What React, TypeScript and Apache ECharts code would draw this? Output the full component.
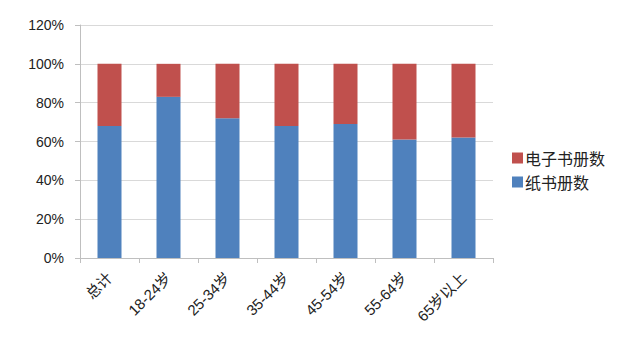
import React, { useEffect, useRef } from "react";
import * as echarts from "echarts";

const categories = ["总计", "18-24岁", "25-34岁", "35-44岁", "45-54岁", "55-64岁", "65岁以上"];
const paperBooks = [68, 83, 72, 68, 69, 61, 62];
const eBooks = [32, 17, 28, 32, 31, 39, 38];
const seriesNames = ["纸书册数", "电子书册数"];

export default function App() {
  const ref = useRef<HTMLDivElement>(null);
  useEffect(() => {
    const chart = echarts.init(ref.current!, null, { renderer: "svg" });
    const axisColor = "#BFBFBF";
    chart.setOption({
      animation: false,
      backgroundColor: "#fff",
      textStyle: { fontFamily: "'Liberation Sans', 'Noto Sans CJK SC', sans-serif" },
      grid: { left: 80, right: 129, top: 25, bottom: 96 },
      legend: {
        orient: "vertical",
        left: 507,
        top: 145,
        itemWidth: 11,
        itemHeight: 11,
        itemGap: 8,
        icon: "rect",
        data: [seriesNames[1], seriesNames[0]],
        textStyle: { fontSize: 16, color: "#222", fontFamily: "'Noto Sans CJK SC', sans-serif", padding: [0, 0, 0, -3] },
      },
      xAxis: {
        type: "category",
        data: categories,
        axisLine: { lineStyle: { color: axisColor } },
        axisTick: { show: true, length: 5, lineStyle: { color: axisColor } },
        axisLabel: {
          rotate: 45,
          fontSize: 15,
          color: "#222",
          margin: 17,
          fontFamily: "'Liberation Sans', 'Noto Sans CJK SC', sans-serif",
        },
      },
      yAxis: {
        type: "value",
        min: 0,
        max: 120,
        interval: 20,
        axisLine: { show: true, lineStyle: { color: axisColor } },
        axisTick: { show: true, length: 5, lineStyle: { color: axisColor } },
        splitLine: { lineStyle: { color: "#D9D9D9" } },
        axisLabel: { formatter: "{value}%", fontSize: 14, color: "#222", margin: 16 },
      },
      series: [
        {
          name: seriesNames[0],
          type: "bar",
          stack: "total",
          data: paperBooks,
          barWidth: 24,
          itemStyle: { color: "#4F81BD" },
        },
        {
          name: seriesNames[1],
          type: "bar",
          stack: "total",
          data: eBooks,
          barWidth: 24,
          itemStyle: { color: "#C0504D" },
        },
      ],
    });
    return () => chart.dispose();
  }, []);
  return <div ref={ref} style={{ width: 622, height: 354, position: "absolute", left: 0, top: 0 }} />;
}
